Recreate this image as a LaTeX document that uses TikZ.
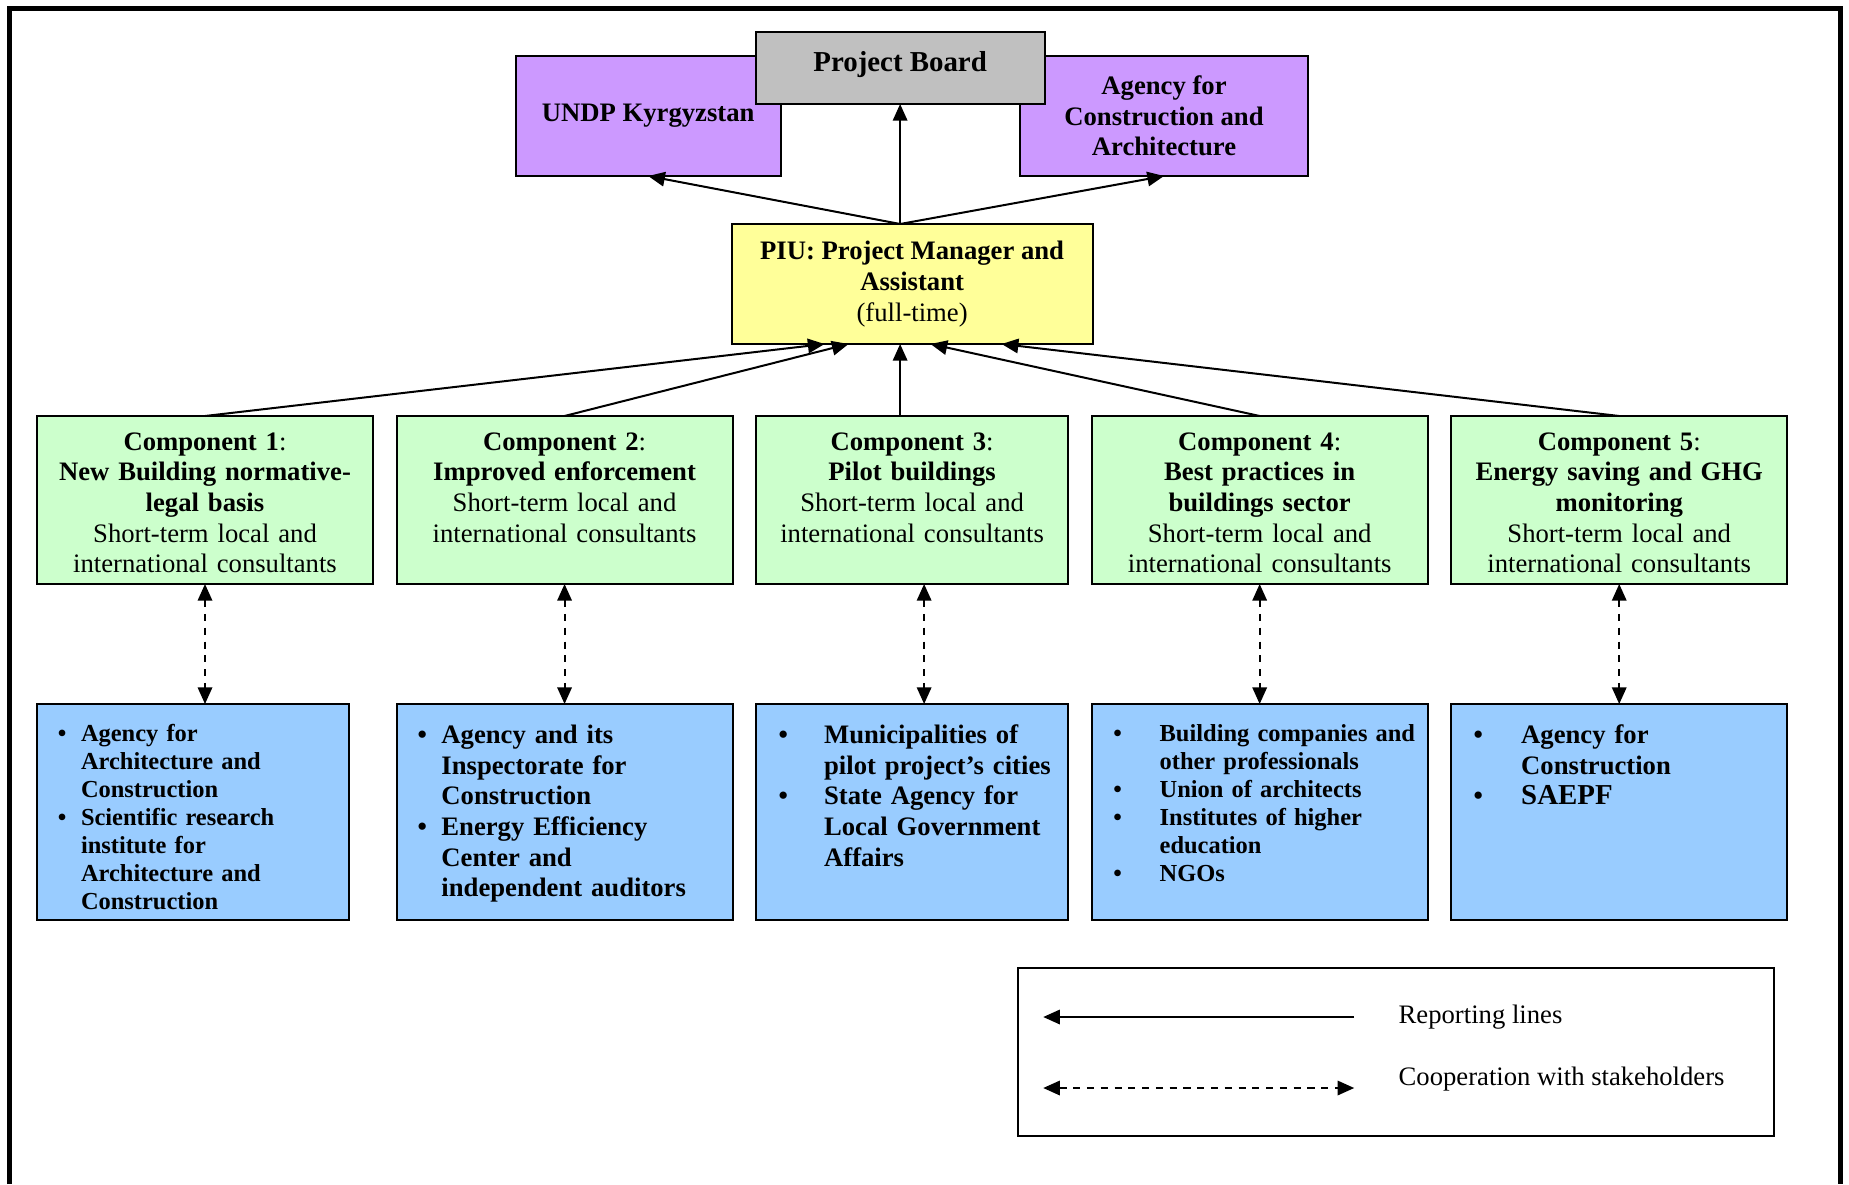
\documentclass[tikz,border=0pt]{standalone}
\usepackage{fontspec}
\setmainfont{Liberation Serif}
\usepackage{tikz}
\usetikzlibrary{arrows.meta,positioning,backgrounds}
\usepackage{xcolor}
\definecolor{agencypurple}{HTML}{CC99FF}
\definecolor{boardgrey}{HTML}{C0C0C0}
\definecolor{piuyellow}{HTML}{FFFF99}
\definecolor{compgreen}{HTML}{CCFFCC}
\definecolor{stakeblue}{HTML}{99CCFF}
\newcommand{\ptxii}{\fontsize{12}{13.8}\selectfont}
\newcommand{\ptxi}{\fontsize{11}{12.65}\selectfont}
\newcommand{\ptxiii}{\fontsize{13}{15}\selectfont}
\newenvironment{stakes}[2]{\begin{list}{\textbullet}{%
    \setlength{\leftmargin}{#1}\setlength{\labelsep}{#2}\setlength{\labelwidth}{10pt}%
    \setlength{\itemsep}{0pt}\setlength{\parsep}{0pt}\setlength{\topsep}{0pt}\setlength{\partopsep}{0pt}}}%
  {\end{list}}

\begin{document}
\begin{tikzpicture}[
    node distance=54pt and 10.6pt,
    box/.style={draw, line width=0.9pt, inner sep=4pt, outer sep=0pt, font=\ptxii},
    comp/.style={box, fill=compgreen, text width=143.2pt, align=center, text height=11.3pt, text depth=56.3pt},
    stake/.style={box, fill=stakeblue, text width=143.2pt, align=left, text height=0pt, text depth=89.2pt, font=\ptxii\bfseries},
    head/.style={box, align=center, minimum height=54pt, font=\ptxii\bfseries},
    report/.style={->, line width=0.9pt},
    coop/.style={<->, line width=0.9pt, dash pattern=on 3.2pt off 3pt},
    >={Triangle[length=7.5pt,width=6.5pt]}]
    \useasboundingbox (0,0) rectangle (832.05pt,-532.8pt);
    \draw[line width=2.25pt] (4.05pt,-532.8pt) -- (4.05pt,-3.6pt) -- (828pt,-3.6pt) -- (828pt,-532.8pt);
    % components
    \node[comp, anchor=north west] (c1) at (16.65pt,-187.2pt) {\textbf{Component 1}:\\ \textbf{New Building normative-}\\ \textbf{legal basis}\\ Short-term local and\\ international consultants};
    \node[comp, right=of c1] (c2) {\textbf{Component 2}:\\ \textbf{Improved enforcement}\\ Short-term local and\\ international consultants};
    \node[comp, right=of c2, text width=132.4pt] (c3) {\textbf{Component 3}:\\ \textbf{Pilot buildings}\\ Short-term local and\\ international consultants};
    \node[comp, right=of c3] (c4) {\textbf{Component 4}:\\ \textbf{Best practices in}\\ \textbf{buildings sector}\\ Short-term local and\\ international consultants};
    \node[comp, right=of c4] (c5) {\textbf{Component 5}:\\ \textbf{Energy saving and GHG}\\ \textbf{monitoring}\\ Short-term local and\\ international consultants};
    % management
    \node[head, fill=piuyellow, font=\ptxii, minimum width=162.45pt, above=32.4pt of c3] (piu) {\textbf{PIU: Project Manager and}\\ \textbf{Assistant}\\ (full-time)};
    \node[head, fill=boardgrey, font=\ptxiii\bfseries, minimum width=130pt, minimum height=32.4pt, text depth=5.5pt, above=54pt of piu, xshift=-5.4pt] (board) {Project Board};
    \begin{scope}[on background layer]
      \node[head, fill=agencypurple, minimum width=119.25pt, anchor=north east] (undp) at ([xshift=11.25pt,yshift=-10.8pt]board.north west) {UNDP Kyrgyzstan};
      \node[head, fill=agencypurple, minimum width=130pt, anchor=north west] (aca) at ([xshift=-11.25pt,yshift=-10.8pt]board.north east) {Agency for\\ Construction and\\ Architecture};
    \end{scope}
    % stakeholders
    \node[stake, text width=132.4pt, font=\ptxi\bfseries, below right=54pt and 0pt of c1.south west] (s1) {\begin{stakes}{15.8pt}{6.6pt}
        \item Agency for\\ Architecture and\\ Construction
        \item Scientific research\\ institute for\\ Architecture and\\ Construction
      \end{stakes}};
    \node[stake, below=of c2] (s2) {\begin{stakes}{16.2pt}{6.5pt}
        \item Agency and its\\ Inspectorate for\\ Construction
        \item Energy Efficiency\\ Center and\\ independent auditors
      \end{stakes}};
    \node[stake, text width=132.4pt, below=of c3] (s3) {\begin{stakes}{26.6pt}{16.3pt}
        \item Municipalities of\\ pilot project’s cities
        \item State Agency for\\ Local Government\\ Affairs
      \end{stakes}};
    \node[stake, font=\ptxi\bfseries, below=of c4] (s4) {\begin{stakes}{26.6pt}{17pt}
        \item Building companies and\\ other professionals
        \item Union of architects
        \item Institutes of higher\\ education
        \item NGOs
      \end{stakes}};
    \node[stake, below=of c5] (s5) {\begin{stakes}{27.5pt}{17.2pt}
        \item Agency for\\ Construction
        \item {\ptxiii SAEPF}
      \end{stakes}};
    % legend
    \node[draw, line width=0.9pt, outer sep=0pt, minimum width=340.2pt, minimum height=75.6pt, inner sep=0pt, below left=21.6pt and 5.85pt of s5.south east] (legend) {};
    \coordinate (rep-l) at ([xshift=11.25pt,yshift=-22.05pt]legend.north west);
    \coordinate (rep-r) at ([xshift=151.2pt,yshift=-22.05pt]legend.north west);
    \coordinate (coop-l) at ([xshift=11.25pt,yshift=-54pt]legend.north west);
    \coordinate (coop-r) at ([xshift=151.2pt,yshift=-54pt]legend.north west);
    \node[font=\ptxii, inner sep=0pt, right=19.8pt of rep-r] (rep-txt) {Reporting lines};
    \node[font=\ptxii, inner sep=0pt, right=19.8pt of coop-r, yshift=4pt] (coop-txt) {Cooperation with stakeholders};
    % reporting lines
    \draw[report] (board.south |- piu.north) -- (board.south);
    \draw[report] (board.south |- piu.north) -- (undp.south);
    \draw[report] (board.south |- piu.north) -- (aca.south);
    \draw[report] (c1.north) -- ([xshift=-39.4pt]piu.south);
    \draw[report] (c2.north) -- ([xshift=-28.6pt]piu.south);
    \draw[report] (board.south |- c3.north) -- (board.south |- piu.south);
    \draw[report] (c4.north) -- ([xshift=8.3pt]piu.south);
    \draw[report] (c5.north) -- ([xshift=40.3pt]piu.south);
    % cooperation
    \draw[coop] (c1.south) -- (c1.south |- s1.north);
    \draw[coop] (c2.south) -- (s2.north);
    \draw[coop] ([xshift=5.4pt]c3.south) -- ([xshift=5.4pt]s3.north);
    \draw[coop] (c4.south) -- (s4.north);
    \draw[coop] (c5.south) -- (s5.north);
    \draw[report] (rep-r) -- (rep-l);
    \draw[coop] (coop-l) -- (coop-r);
  \end{tikzpicture}
\end{document}
